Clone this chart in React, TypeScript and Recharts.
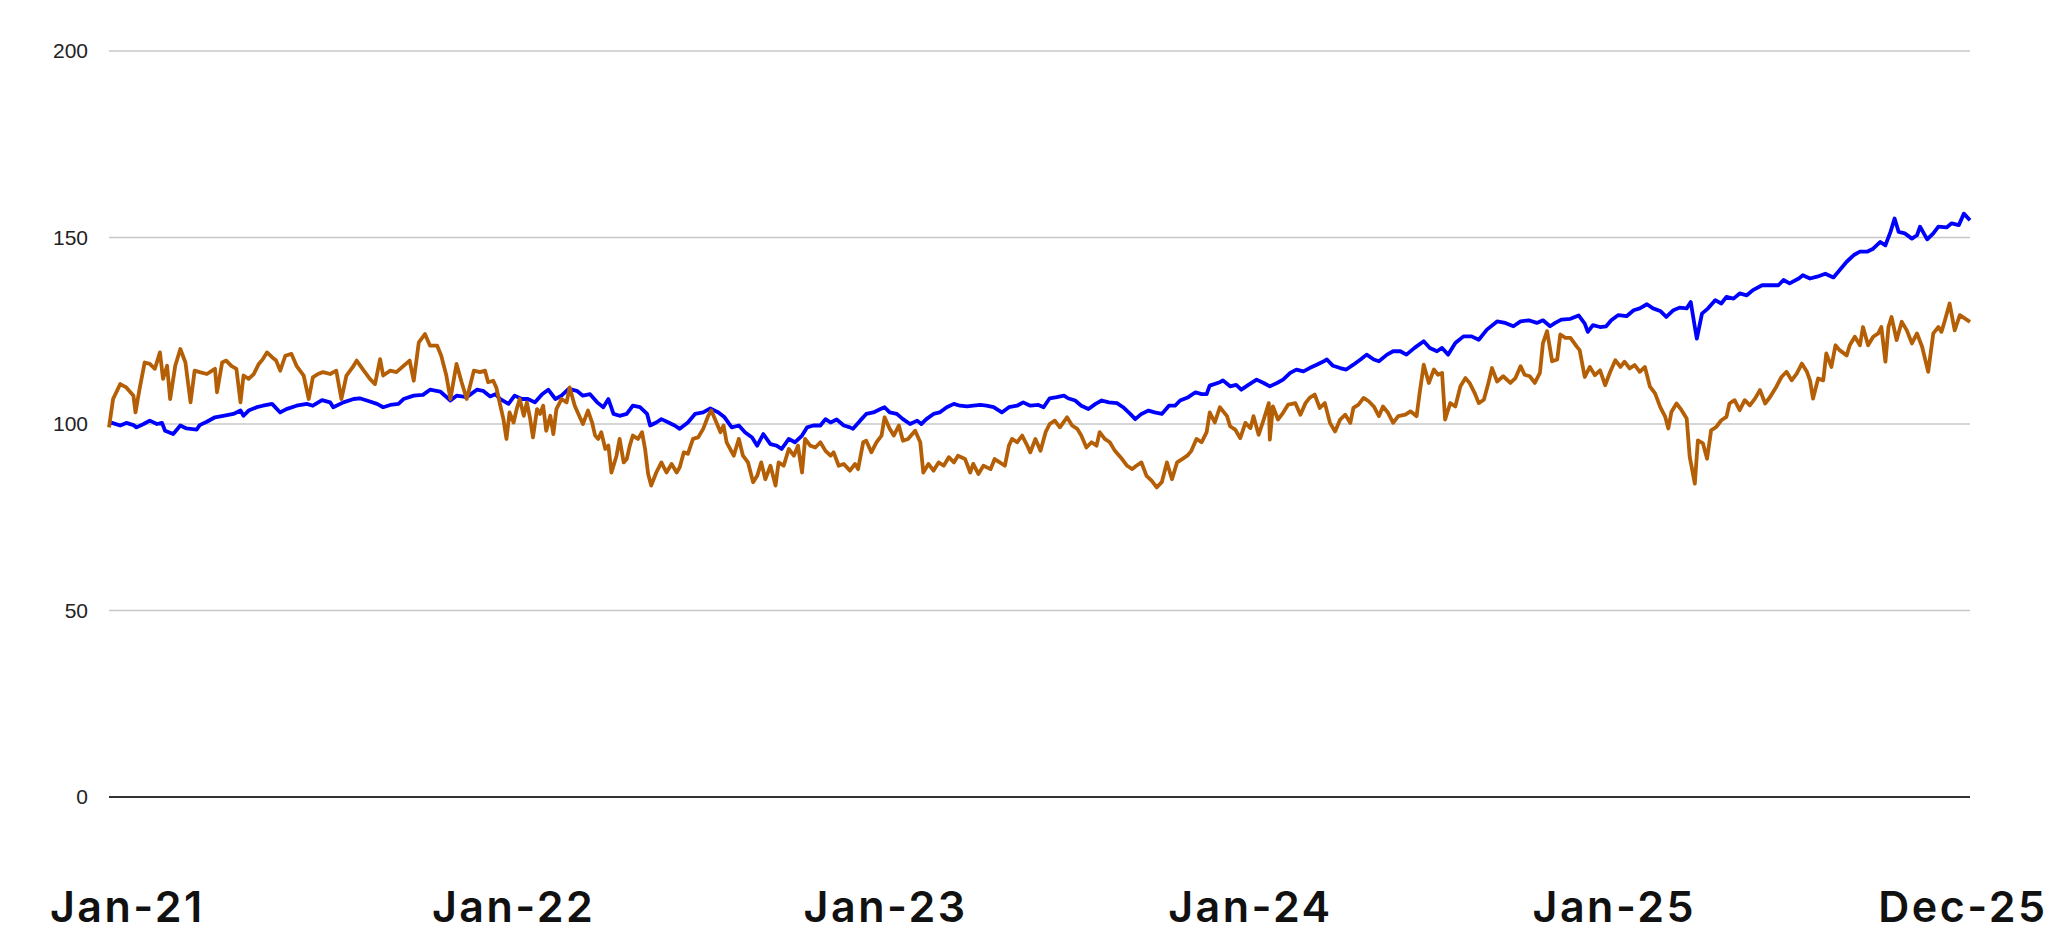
import React from "react";
import { CartesianGrid, Line, LineChart, XAxis, YAxis } from "recharts";

// x = days since 1 Jan 2021
const blueDays = [
  0, 3, 11, 17, 24, 27, 34, 40, 47, 52, 55, 63, 70, 76, 86, 89, 96, 104, 112, 122, 129, 132, 137, 145, 151, 160, 168, 174, 184, 194, 200, 209, 217, 220, 230, 240, 246, 253, 263, 269, 276, 284, 289, 299, 308, 315, 325, 335, 341, 351, 361,
  367, 374, 379, 384, 392, 398, 405, 411, 418, 425, 431, 438, 444, 451, 459, 465, 472, 479, 485, 490, 495, 501, 508, 514, 521, 528, 531, 537, 542, 549, 555, 560, 568, 575, 583, 590, 598, 604, 611, 618, 624, 631, 636, 642, 649, 655, 660, 667, 673, 680, 685, 691, 698, 703, 708, 714, 721, 727,
  730, 737, 743, 750, 757, 761, 766, 773, 779, 786, 793, 797, 802, 809, 815, 822, 829, 835, 842, 848, 855, 861, 868, 876, 883, 891, 897, 904, 912, 917, 923, 930, 937, 941, 948, 954, 961, 968, 974, 981, 989, 995, 1002, 1007, 1013, 1020, 1026, 1033, 1040, 1046, 1051, 1059, 1066, 1072, 1077, 1080, 1090,
  1093, 1100, 1106, 1111, 1118, 1126, 1133, 1139, 1146, 1152, 1159, 1165, 1172, 1178, 1185, 1192, 1195, 1201, 1208, 1214, 1221, 1228, 1234, 1241, 1246, 1254, 1260, 1267, 1273, 1281, 1290, 1296, 1303, 1308, 1314, 1321, 1329, 1337, 1344, 1352, 1362, 1370, 1378, 1385, 1393, 1401, 1407, 1414, 1419, 1425, 1434, 1442,
  1448, 1451, 1456, 1463, 1469, 1474, 1481, 1489, 1496, 1502, 1509, 1515, 1522, 1528, 1535, 1541, 1548, 1552, 1556, 1558, 1563, 1569, 1576, 1582, 1587, 1594, 1600, 1607, 1613, 1622, 1630, 1638, 1643, 1649, 1658, 1662, 1669, 1676, 1684, 1692, 1698, 1705, 1712, 1718, 1725, 1731, 1738, 1743, 1748, 1752, 1756, 1762, 1769, 1774, 1777, 1784, 1790, 1795, 1803, 1808, 1815, 1820, 1826,
];
const blueValues = [
  100.0, 100.3, 99.6, 100.3, 99.7, 99.1, 100.0, 100.9, 100.0, 100.3, 98.2, 97.3, 99.6, 98.8, 98.5, 99.7, 100.6, 101.8, 102.2, 102.7, 103.6, 102.2, 103.6, 104.5, 104.9, 105.4, 103.1, 104.0, 104.9, 105.4, 104.9, 106.4, 105.8, 104.5, 105.8, 106.7, 106.9, 106.3, 105.4, 104.5, 105.1, 105.4, 106.7, 107.6, 107.8, 109.2, 108.7, 106.3, 107.6, 107.2, 109.2,
  108.9, 107.4, 108.0, 106.7, 105.4, 107.6, 106.7, 106.7, 105.8, 108.0, 109.2, 106.7, 107.6, 109.4, 108.9, 107.6, 108.0, 105.8, 104.5, 106.7, 102.7, 102.2, 102.7, 104.9, 104.5, 102.7, 99.6, 100.4, 101.3, 100.4, 99.6, 98.7, 100.4, 102.7, 103.1, 104.2, 103.1, 101.8, 99.1, 99.6, 97.8, 96.4, 94.2, 97.3, 94.6, 94.2, 93.3, 96.0, 95.1, 96.9, 99.1, 99.6, 99.6, 101.3, 100.4, 101.2, 99.6, 99.1,
  98.7, 100.9, 102.7, 103.1, 104.0, 104.5, 103.1, 102.7, 101.3, 100.0, 100.9, 100.0, 101.3, 102.7, 103.1, 104.5, 105.4, 104.9, 104.7, 104.9, 105.1, 104.9, 104.5, 103.1, 104.5, 104.9, 105.8, 104.9, 105.1, 104.5, 106.9, 107.2, 107.6, 106.9, 106.3, 104.9, 104.0, 105.4, 106.3, 105.8, 105.6, 104.5, 102.7, 101.3, 102.7, 103.6, 103.1, 102.7, 104.9, 104.9, 106.3, 107.2, 108.5, 108.0, 108.0, 110.3, 111.2,
  111.7, 110.1, 110.5, 109.2, 110.5, 111.9, 111.0, 110.1, 111.0, 111.9, 113.7, 114.6, 114.1, 115.0, 115.9, 116.8, 117.3, 115.6, 115.0, 114.6, 115.9, 117.3, 118.6, 117.3, 116.8, 118.6, 119.5, 119.5, 118.6, 120.4, 122.2, 120.4, 119.5, 120.4, 118.6, 121.7, 123.5, 123.5, 122.6, 125.3, 127.5, 127.1, 126.2, 127.5, 127.8, 127.1, 127.8, 126.2, 127.1, 128.0, 128.2, 129.1,
  126.9, 124.7, 126.5, 126.0, 126.2, 127.8, 129.2, 128.9, 130.5, 131.0, 132.1, 131.0, 130.3, 128.7, 130.5, 131.2, 131.0, 132.7, 126.0, 122.9, 129.6, 131.0, 133.2, 132.3, 134.1, 133.6, 135.0, 134.5, 135.9, 137.2, 137.2, 137.2, 138.6, 137.7, 139.0, 139.9, 139.0, 139.5, 140.3, 139.3, 141.2, 143.5, 145.3, 146.2, 146.2, 147.0, 148.8, 147.9, 151.5, 155.1, 151.5, 151.1, 149.7, 150.6, 152.9, 149.5, 151.1, 152.9, 152.7, 153.8, 153.3, 156.4, 154.6,
];

const orangeDays = [
  0, 4, 11, 17, 24, 26, 30, 35, 40, 45, 50, 53, 57, 60, 65, 70, 75, 80, 84, 89, 96, 104, 106, 111, 115, 120, 125, 129, 132, 137, 142, 147, 151, 155, 160, 164, 168, 173, 179, 184, 191, 196, 200, 205, 210, 217, 223, 228, 233, 240, 243, 250, 256, 261, 266, 269, 276, 282, 289, 295, 299, 304, 310, 315, 322, 326, 331, 335, 341, 346, 351, 358, 364,
  369, 372, 377, 380, 384, 387, 390, 393, 397, 400, 403, 407, 410, 413, 416, 420, 423, 426, 429, 433, 436, 439, 444, 449, 452, 457, 462, 465, 470, 474, 477, 480, 483, 487, 490, 493, 498, 501, 505, 508, 511, 514, 519, 523, 526, 529, 532, 537, 542, 547, 552, 557, 560, 564, 568, 573, 578, 583, 588, 591, 596, 600, 603, 606, 613, 618, 622, 627, 632, 636, 640, 644, 649, 654, 657, 662, 667, 672, 676, 680, 683, 688, 693, 698, 703, 708, 711, 716, 721, 727,
  732, 735, 740, 743, 748, 753, 758, 761, 766, 770, 775, 779, 784, 791, 796, 799, 804, 809, 814, 819, 824, 829, 833, 840, 845, 848, 853, 858, 865, 869, 874, 879, 883, 886, 891, 896, 901, 904, 909, 914, 919, 923, 928, 933, 940, 945, 950, 954, 959, 964, 969, 972, 977, 982, 987, 994, 999, 1004, 1008, 1013, 1018, 1023, 1028, 1033, 1038, 1043, 1048, 1053, 1058, 1062, 1067, 1072, 1077, 1080, 1085, 1090,
  1097, 1100, 1105, 1110, 1115, 1120, 1123, 1128, 1133, 1138, 1139, 1142, 1147, 1152, 1157, 1164, 1169, 1174, 1178, 1183, 1188, 1193, 1198, 1203, 1208, 1213, 1218, 1221, 1226, 1231, 1236, 1241, 1246, 1250, 1255, 1260, 1265, 1272, 1277, 1283, 1286, 1290, 1295, 1300, 1304, 1308, 1311, 1316, 1321, 1326, 1331, 1335, 1340, 1344, 1349, 1353, 1357, 1362, 1368, 1375, 1380, 1385, 1389, 1394, 1399, 1404, 1407, 1411, 1416, 1421, 1424, 1429, 1434, 1440,
  1443, 1448, 1453, 1458, 1463, 1468, 1473, 1478, 1483, 1487, 1492, 1497, 1502, 1507, 1512, 1517, 1522, 1527, 1530, 1533, 1538, 1543, 1548, 1551, 1556, 1559, 1564, 1568, 1572, 1577, 1582, 1587, 1590, 1595, 1600, 1605, 1610, 1615, 1620, 1625, 1630, 1636, 1641, 1646, 1651, 1656, 1661, 1666, 1669, 1672, 1677, 1682, 1685, 1690, 1694, 1698, 1705, 1708, 1713, 1718, 1721, 1726, 1731, 1736, 1739, 1743, 1746, 1749, 1754, 1759, 1764, 1769, 1774, 1779, 1785, 1790, 1795, 1798, 1801, 1806, 1811, 1816, 1826,
];
const orangeValues = [
  99.1, 106.7, 110.7, 109.8, 107.6, 103.1, 109.4, 116.5, 116.1, 114.8, 119.2, 112.1, 115.6, 106.7, 115.6, 120.1, 116.5, 105.8, 114.3, 113.9, 113.4, 114.8, 108.5, 116.5, 117.0, 115.6, 114.8, 105.8, 113.0, 112.1, 113.4, 116.1, 117.4, 119.2, 117.9, 117.0, 114.3, 118.3, 118.8, 115.6, 113.0, 106.7, 112.5, 113.4, 113.9, 113.4, 114.3, 106.7, 113.0, 115.6, 117.0, 114.3, 112.1, 110.7, 117.4, 113.0, 114.3, 113.9, 115.6, 117.0, 111.6, 121.9, 124.1, 121.0, 121.0, 118.3, 113.0, 106.7, 116.1, 111.2, 106.7, 114.3, 113.9,
  114.3, 111.2, 111.6, 109.8, 104.9, 101.3, 96.0, 103.1, 100.4, 104.0, 106.7, 102.2, 105.8, 101.8, 96.4, 104.0, 102.7, 104.9, 98.2, 102.2, 97.3, 104.0, 106.7, 105.8, 109.8, 104.9, 101.8, 100.0, 103.6, 100.4, 96.9, 96.0, 97.8, 93.3, 94.2, 87.0, 91.5, 96.0, 89.7, 90.6, 94.2, 96.9, 96.0, 97.8, 93.3, 86.6, 83.5, 87.0, 89.7, 87.0, 89.3, 87.0, 88.4, 92.4, 92.0, 96.0, 96.4, 98.7, 102.2, 103.6, 100.4, 97.8, 99.6, 95.1, 91.5, 96.0, 91.5, 89.7, 84.4, 86.1, 89.7, 85.2, 88.8, 83.5, 89.7, 88.8, 93.3, 91.5, 94.2, 87.0, 96.0, 94.2, 93.7, 95.1, 92.8, 91.5, 92.4, 88.8, 89.3, 87.5,
  89.3, 87.9, 95.1, 95.5, 92.4, 95.1, 96.9, 101.8, 98.7, 96.9, 99.6, 95.5, 96.0, 98.2, 95.1, 87.0, 89.3, 87.5, 89.7, 88.8, 91.1, 89.7, 91.5, 90.6, 87.0, 89.3, 86.6, 88.8, 87.9, 90.6, 89.7, 88.8, 94.2, 96.0, 95.1, 96.9, 94.2, 92.4, 96.0, 92.8, 97.8, 100.0, 100.9, 99.1, 101.8, 99.6, 98.7, 96.9, 93.7, 95.1, 94.2, 97.8, 96.0, 95.1, 92.8, 90.6, 88.8, 87.9, 88.8, 89.7, 86.1, 84.8, 83.0, 84.4, 89.7, 85.2, 89.7, 90.6, 91.5, 92.8, 96.0, 95.1, 97.8, 103.1, 100.4, 104.5,
  102.1, 99.4, 98.5, 96.2, 100.3, 98.9, 102.1, 97.1, 101.2, 105.6, 95.8, 104.7, 101.2, 103.0, 105.2, 105.6, 102.5, 105.6, 107.0, 107.9, 104.3, 105.6, 100.3, 98.0, 101.2, 102.5, 100.3, 104.3, 105.2, 107.0, 106.1, 104.7, 102.1, 104.7, 103.0, 100.3, 102.1, 102.5, 103.4, 102.1, 108.3, 115.9, 111.0, 114.6, 113.2, 113.7, 101.2, 105.6, 104.7, 110.1, 112.3, 111.0, 108.3, 105.6, 106.5, 110.5, 115.0, 111.4, 112.8, 111.0, 112.3, 115.5, 113.2, 112.8, 111.0, 113.7, 121.7, 124.9, 116.8, 117.3, 124.0, 123.1, 123.1, 120.8,
  119.8, 112.6, 115.3, 113.1, 114.4, 110.4, 114.0, 117.1, 115.3, 116.7, 114.9, 115.8, 114.0, 115.3, 110.0, 108.2, 104.6, 101.9, 98.8, 103.2, 105.5, 103.7, 101.5, 91.2, 84.0, 95.6, 94.8, 90.7, 98.3, 99.2, 101.0, 101.9, 105.5, 106.4, 103.7, 106.4, 105.0, 106.8, 109.1, 105.5, 107.3, 110.0, 112.6, 114.0, 111.7, 113.5, 116.2, 114.0, 111.7, 106.8, 112.2, 111.7, 118.9, 115.3, 121.1, 119.8, 118.4, 121.1, 123.4, 121.1, 126.0, 121.1, 123.4, 124.3, 126.0, 116.7, 126.0, 128.7, 122.5, 127.4, 125.1, 121.6, 124.3, 120.7, 114.0, 124.3, 126.0, 124.7, 127.4, 132.3, 125.1, 129.2, 127.4,
];

const yTicks = [0, 50, 100, 150, 200];
// label positions (days) as they sit under the reference axis
const xTickDays = [18, 397, 762, 1120, 1477, 1819];
const xTickLabels = ["Jan-21", "Jan-22", "Jan-23", "Jan-24", "Jan-25", "Dec-25"];

const BLUE = "#0000ff";
const ORANGE = "#b45f06";

const toRows = (days: number[], values: number[]) => days.map((day, i) => ({ day, value: values[i] }));
const blueRows = toRows(blueDays, blueValues);
const orangeRows = toRows(orangeDays, orangeValues);

function DateTick({ x, y, payload }: any) {
  const i = xTickDays.indexOf(payload.value);
  return (
    <text
      x={x}
      y={y}
      textAnchor="middle"
      fontFamily="Inter, 'Noto Sans', sans-serif"
      fontWeight={600}
      fontSize={43}
      letterSpacing={2.5}
      fill="#111"
    >
      {xTickLabels[i]}
    </text>
  );
}

export default function App() {
  return (
    <div style={{ position: "absolute", left: 0, top: 0, width: 2052, height: 936, background: "#fff" }}>
      <LineChart width={2052} height={936} margin={{ top: 51, right: 82, bottom: 0, left: 0 }}>
        <CartesianGrid vertical={false} stroke="#c8c8c8" strokeWidth={1.5} />
        <XAxis
          type="number"
          dataKey="day"
          domain={[0, 1826]}
          ticks={xTickDays}
          interval={0}
          height={139}
          tickLine={false}
          tickMargin={119}
          axisLine={{ stroke: "#333", strokeWidth: 2 }}
          tick={<DateTick />}
        />
        <YAxis
          type="number"
          domain={[0, 200]}
          ticks={yTicks}
          width={109}
          tickLine={false}
          axisLine={false}
          tickMargin={15}
          tick={{ fontSize: 21, fill: "#222", fontFamily: "'Liberation Sans', Arial, sans-serif" }}
        />
        <Line data={blueRows} dataKey="value" stroke={BLUE} strokeWidth={3.8} dot={false} isAnimationActive={false} strokeLinejoin="round" />
        <Line data={orangeRows} dataKey="value" stroke={ORANGE} strokeWidth={3.8} dot={false} isAnimationActive={false} strokeLinejoin="round" />
      </LineChart>
    </div>
  );
}
